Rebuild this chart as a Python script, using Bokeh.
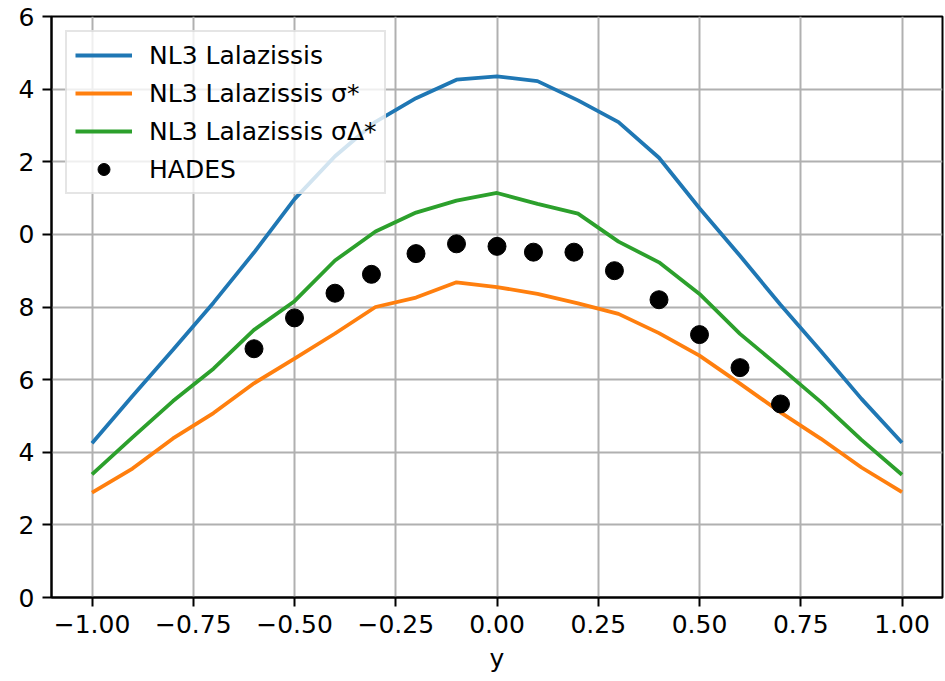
from bokeh.plotting import figure
from bokeh.models import FixedTicker, Range1d, Legend, LegendItem
from bokeh.embed import file_html
from bokeh.resources import INLINE

# ---- data ----
x_model = [-1.0, -0.9, -0.8, -0.7, -0.6, -0.5, -0.4, -0.3, -0.2, -0.1, 0.0,
           0.1, 0.2, 0.3, 0.4, 0.5, 0.6, 0.7, 0.8, 0.9, 1.0]
nl3 = [4.25, 5.55, 6.82, 8.12, 9.50, 10.97, 12.15, 13.10, 13.75, 14.26, 14.35,
       14.22, 13.69, 13.09, 12.11, 10.72, 9.41, 8.06, 6.78, 5.47, 4.26]
nl3_sigma = [2.89, 3.55, 4.38, 5.08, 5.90, 6.58, 7.27, 8.00, 8.26, 8.68, 8.55,
             8.36, 8.10, 7.81, 7.28, 6.66, 5.89, 5.10, 4.37, 3.58, 2.90]
nl3_sigma_delta = [3.39, 4.41, 5.41, 6.30, 7.37, 8.16, 9.28, 10.08, 10.60, 10.93, 11.14,
                   10.84, 10.57, 9.80, 9.23, 8.36, 7.26, 6.33, 5.38, 4.34, 3.38]
hades_x = [-0.6, -0.5, -0.4, -0.31, -0.2, -0.1, 0.0, 0.09, 0.19, 0.29, 0.4, 0.5, 0.6, 0.7]
hades_v = [6.85, 7.70, 8.38, 8.90, 9.47, 9.74, 9.67, 9.51, 9.51, 9.00, 8.20, 7.24, 6.33, 5.33]

x_ticks = [-1.0, -0.75, -0.5, -0.25, 0.0, 0.25, 0.5, 0.75, 1.0]
x_tick_labels = ["\u22121.00", "\u22120.75", "\u22120.50", "\u22120.25", "0.00",
                 "0.25", "0.50", "0.75", "1.00"]
y_ticks = [0, 2, 4, 6, 8, 10, 12, 14, 16]
y_tick_labels = ["0", "2", "4", "6", "8", "0", "2", "4", "6"]

series_labels = ["NL3 Lalazissis", "NL3 Lalazissis \u03c3*",
                 "NL3 Lalazissis \u03c3\u0394*", "HADES"]
colors = ["#1f77b4", "#ff7f0e", "#2ca02c"]

FONT = "DejaVu Sans"
FS = "25px"

p = figure(width=945, height=681, output_backend="svg", toolbar_location=None,
           x_range=Range1d(-1.1, 1.1), y_range=Range1d(0, 16),
           min_border_left=51, min_border_right=3, min_border_top=16,
           min_border_bottom=84)
p.background_fill_color = "white"
p.border_fill_color = "white"
p.outline_line_color = "black"
p.outline_line_width = 2

r1 = p.line(x_model, nl3, line_color=colors[0], line_width=3.8)
r2 = p.line(x_model, nl3_sigma, line_color=colors[1], line_width=3.8)
r3 = p.line(x_model, nl3_sigma_delta, line_color=colors[2], line_width=3.8)
r4 = p.scatter(hades_x, hades_v, size=18, fill_color="black", line_color="black")

# axes
p.xaxis.ticker = FixedTicker(ticks=x_ticks)
p.xaxis.major_label_overrides = {t: l for t, l in zip(x_ticks, x_tick_labels)}
p.yaxis.ticker = FixedTicker(ticks=y_ticks)
p.yaxis.major_label_overrides = {t: l for t, l in zip(y_ticks, y_tick_labels)}
for ax in (p.xaxis, p.yaxis):
    ax.axis_line_color = "black"
    ax.axis_line_width = 2
    ax.major_tick_line_color = "black"
    ax.major_tick_line_width = 2
    ax.major_tick_out = 9
    ax.major_tick_in = 0
    ax.minor_tick_line_color = None
    ax.major_label_text_font = FONT
    ax.major_label_text_font_size = FS
    ax.major_label_text_color = "black"
    ax.major_label_standoff = 8
p.xaxis.axis_label = "y"
p.xaxis.axis_label_text_font = FONT
p.xaxis.axis_label_text_font_size = FS
p.xaxis.axis_label_text_font_style = "normal"
p.xaxis.axis_label_text_color = "black"
p.xaxis.axis_label_standoff = 8

p.xgrid.ticker = FixedTicker(ticks=x_ticks)
p.ygrid.ticker = FixedTicker(ticks=y_ticks)
p.grid.grid_line_color = "#b0b0b0"
p.grid.grid_line_width = 2

legend = Legend(items=[LegendItem(label=series_labels[0], renderers=[r1]),
                       LegendItem(label=series_labels[1], renderers=[r2]),
                       LegendItem(label=series_labels[2], renderers=[r3]),
                       LegendItem(label=series_labels[3], renderers=[r4])],
                location="top_left", margin=14, padding=8, spacing=8,
                glyph_width=57, glyph_height=30, label_height=30,
                label_standoff=17, label_text_font=FONT, label_text_font_size=FS,
                label_text_color="black",
                border_line_color="#cccccc", border_line_width=2,
                background_fill_color="white", background_fill_alpha=0.8)
p.add_layout(legend)

open("out.html", "w").write(file_html(p, INLINE))
